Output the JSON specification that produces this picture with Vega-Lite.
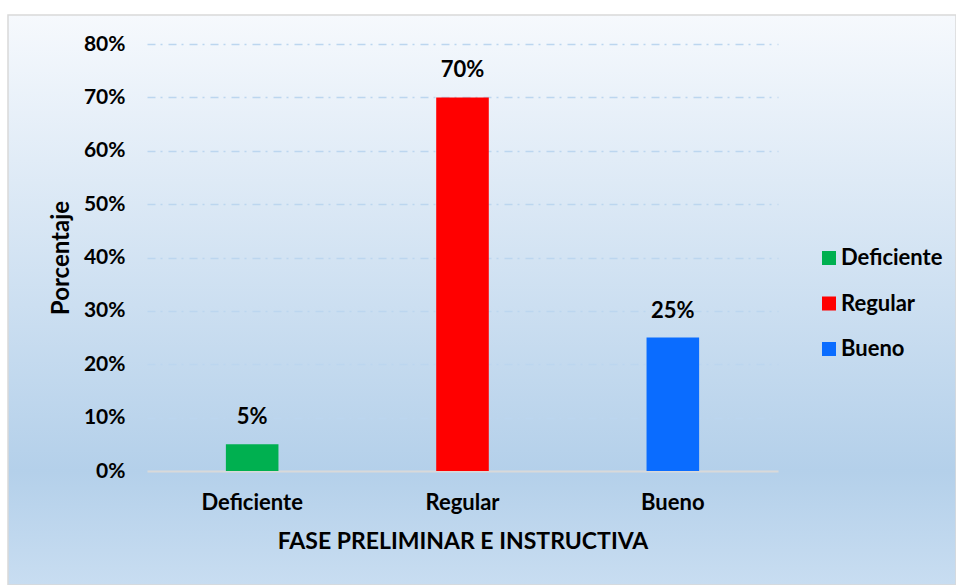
{
  "$schema": "https://vega.github.io/schema/vega-lite/v6.json",
  "width": 948,
  "height": 570,
  "autosize": "none",
  "padding": {"left": 8, "top": 15, "right": 0, "bottom": 0},
  "background": "white",
  "view": {
    "stroke": "#d9d9d9",
    "strokeWidth": 1.5,
    "fill": {"expr": "{gradient: 'linear', x1: 0, y1: 0, x2: 0, y2: 1, stops: [{offset: 0, color: '#f6f9fd'}, {offset: 0.8, color: '#b4d0ea'}, {offset: 1, color: '#c8ddf1'}]}"}
  },
  "data": {
    "values": [
      {"fase": "Deficiente", "pct": 0.05},
      {"fase": "Regular", "pct": 0.70},
      {"fase": "Bueno", "pct": 0.25}
    ]
  },
  "encoding": {
    "x": {
      "field": "fase",
      "type": "nominal",
      "sort": ["Deficiente", "Regular", "Bueno"],
      "scale": {"range": [139, 770], "paddingInner": 0.75, "paddingOuter": 0.375},
      "axis": {
        "title": "FASE PRELIMINAR E INSTRUCTIVA",
        "labelAngle": 0,
        "orient": "bottom",
        "offset": -114,
        "ticks": false,
        "tickSize": 0,
        "domainColor": "#d9d9d9",
        "domainWidth": 2,
        "labelFontSize": 22,
        "labelPadding": 21,
        "titlePadding": 17,
        "grid": false
      }
    },
    "y": {
      "field": "pct",
      "type": "quantitative",
      "scale": {"domain": [0, 0.8], "range": [456, 29], "nice": false},
      "axis": {
        "title": "Porcentaje",
        "titleFontSize": 24,
        "format": ".0%",
        "values": [0, 0.1, 0.2, 0.3, 0.4, 0.5, 0.6, 0.7, 0.8],
        "offset": -127,
        "domain": false,
        "ticks": false,
        "tickSize": 0,
        "labelFontSize": 21,
        "labelPadding": 10,
        "titlePadding": 10,
        "grid": true,
        "gridColor": {"condition": {"test": "datum.value === 0", "value": "transparent"}, "value": "#bcd6ef"},
        "gridDash": [8, 5, 2, 6],
        "gridWidth": 1.5
      }
    }
  },
  "layer": [
    {
      "mark": {"type": "bar"},
      "encoding": {
        "color": {
          "field": "fase",
          "type": "nominal",
          "scale": {"domain": ["Deficiente", "Regular", "Bueno"], "range": ["#00b050", "#ff0000", "#0a6cff"]},
          "legend": {
            "title": null,
            "orient": "none",
            "legendX": 810,
            "legendY": 232,
            "padding": 0,
            "rowPadding": 23.5,
            "symbolType": "square",
            "symbolSize": 196,
            "symbolStrokeWidth": 0,
            "labelOffset": 1,
            "labelFontSize": 22,
            "labelFontWeight": "bold",
            "labelColor": "black"
          }
        }
      }
    },
    {
      "mark": {"type": "text", "baseline": "bottom", "dy": -15, "fontSize": 22, "fontWeight": "bold", "color": "black"},
      "encoding": {
        "text": {"field": "pct", "type": "quantitative", "format": ".0%"}
      }
    }
  ],
  "config": {
    "font": "Lato",
    "axis": {
      "labelFontWeight": "bold",
      "labelColor": "black",
      "titleFontSize": 23,
      "titleFontWeight": "bold",
      "titleColor": "black"
    },
    "legend": {"labelFont": "Lato"}
  }
}
